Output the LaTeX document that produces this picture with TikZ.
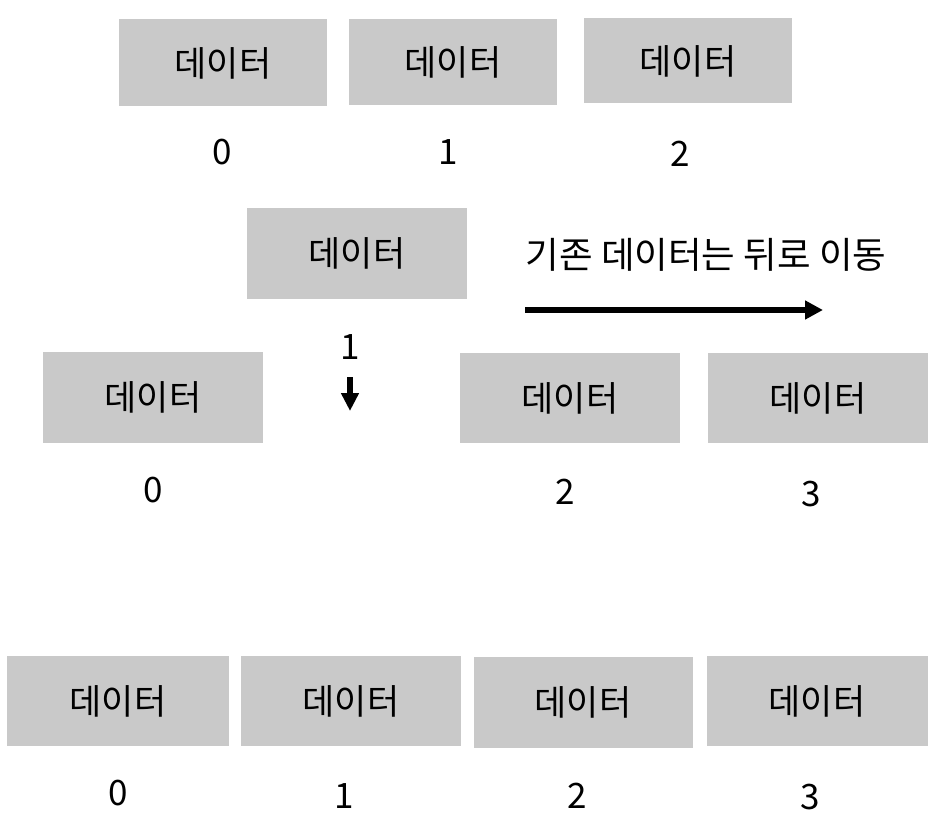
\documentclass[tikz,border=0pt]{standalone}
\usepackage{fontspec}
\setmainfont{Noto Sans CJK KR}
\usepackage{tikz}
\usetikzlibrary{arrows.meta}

\definecolor{boxgray}{HTML}{C9C9C9}

\begin{document}
\begin{tikzpicture}[x=1pt,y=-1pt,
  cell/.style={fill=boxgray,minimum width=#1,minimum height=90pt,inner sep=0pt,font=\fontsize{35}{40}\selectfont},
  idx/.style={font=\fontsize{35}{40}\selectfont},
  move/.style={line width=6pt,-{Triangle[length=18pt,width=18pt]}}]
  \useasboundingbox (0,0) rectangle (948,832);

  % before
  \node[cell=208pt,minimum height=87pt] (a0) at (223,63){데이터};
  \node[cell=208pt,minimum height=86pt] (a1) at (453,62){데이터};
  \node[cell=208pt,minimum height=85pt] (a2) at (688,61){데이터};

  \node[idx] (ai0) at (222,152){0};
  \node[idx] (ai1) at (448,152){1};
  \node[idx] (ai2) at (680,154){2};

  % insert
  \node[cell=220pt,minimum height=91pt] (new) at (357,253){데이터};
  \node[idx,font=\fontsize{36.5}{40}\selectfont] (note) at (706,255){기존 데이터는 뒤로 이동};
  \coordinate (s) at (525,310);
  \coordinate (e) at (823,310);
  \draw[move] (s) -- (e);

  \node[idx] (ni) at (350,347){1};
  \coordinate (q) at (350,377);
  \coordinate (p) at (350,411);
  \draw[line width=6.5pt,-{Triangle[length=18pt,width=17pt]}] (q) -- (p);

  \node[cell=220pt,minimum height=91pt] (b0) at (153,397){데이터};
  \node[cell=220pt,minimum height=90pt] (b2) at (570,398){데이터};
  \node[cell=220pt,minimum height=90pt] (b3) at (818,398){데이터};

  \node[idx] (bi0) at (153,490){0};
  \node[idx] (bi2) at (565,492){2};
  \node[idx] (bi3) at (811,494){3};

  % after
  \node[cell=222pt] (c0) at (118,701){데이터};
  \node[cell=220pt] (c1) at (351,701){데이터};
  \node[cell=219pt,minimum height=91pt] (c2) at (583,702){데이터};
  \node[cell=221pt] (c3) at (817,701){데이터};

  \node[idx] (ci0) at (118,793){0};
  \node[idx] (ci1) at (344,796){1};
  \node[idx] (ci2) at (577,796){2};
  \node[idx] (ci3) at (810,797){3};

\end{tikzpicture}
\end{document}
